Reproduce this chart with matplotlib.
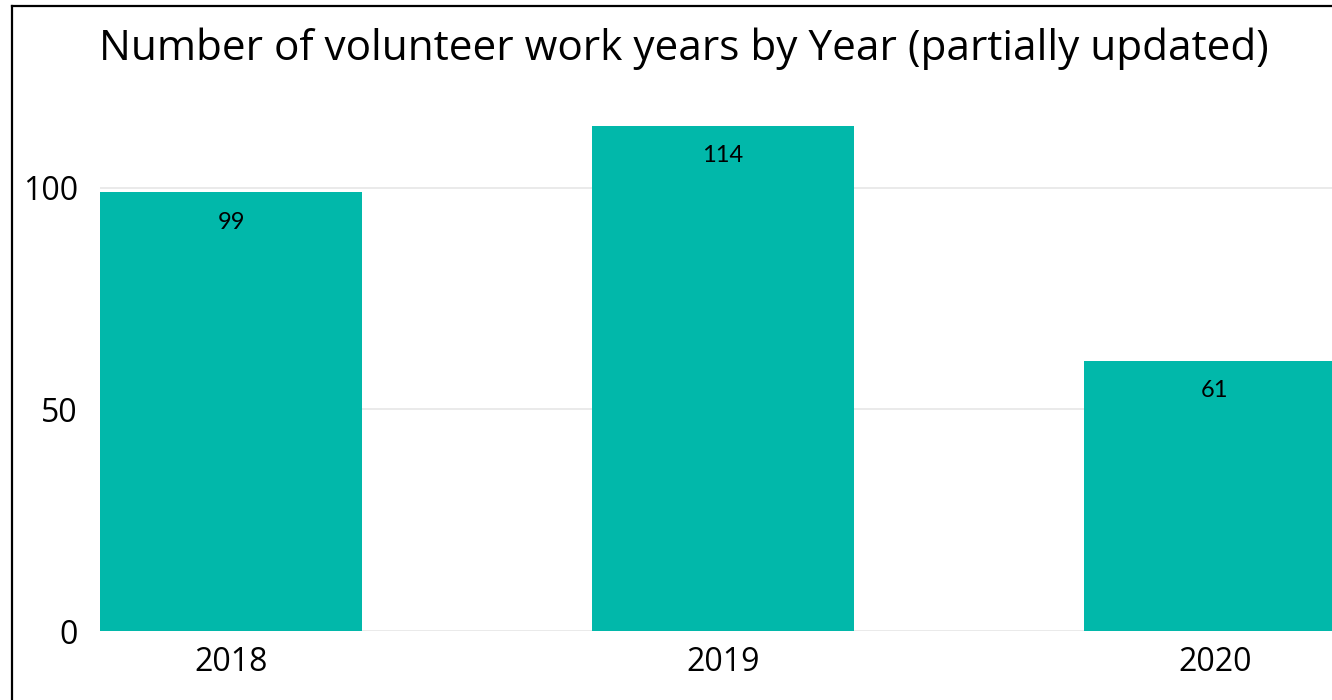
import matplotlib.pyplot as plt
from matplotlib.lines import Line2D

years = ["2018", "2019", "2020"]
work_years = [99, 114, 61]
y_ticks = [0, 50, 100]

W, H = 1332, 700
fig = plt.figure(figsize=(W / 100, H / 100), dpi=100)

# axes placed in pixels: x from 100 to right edge (last bar is cut off), y from 631 up
ax = fig.add_axes([100 / W, (H - 631) / H, (W - 100) / W, (631 - 106) / H])
xs = list(range(len(years)))
bars = ax.bar(xs, work_years, width=0.533, color="#01B8AA", zorder=2)
ax.set_xlim(-0.2665, 2.238)
ax.set_ylim(0, 118.5)

for b, v in zip(bars, work_years):
    ax.annotate(str(v), (b.get_x() + b.get_width() / 2, v), xytext=(0, -14),
                textcoords="offset points", ha="center", va="top",
                fontsize=17, family="Lato", color="black")

ax.set_yticks(y_ticks)
ax.set_yticklabels([str(t) for t in y_ticks], fontsize=23, family="Open Sans")
ax.set_xticks(xs)
ax.set_xticklabels(years, fontsize=23, family="Open Sans")
ax.tick_params(length=0)
ax.tick_params(axis="y", pad=16)
ax.tick_params(axis="x", pad=11)
ax.grid(axis="y", color="#E6E6E6", linewidth=1.2, zorder=0)
for s in ax.spines.values():
    s.set_visible(False)

fig.text(684 / W, 1 - 60 / H, "Number of volunteer work years by Year (partially updated)",
         ha="center", va="baseline", fontsize=30.4, family="Open Sans")

# frame lines on left and top
fig.add_artist(Line2D([11.5 / W, 11.5 / W], [0, 1 - 5.5 / H], color="black", linewidth=1.6))
fig.add_artist(Line2D([11.5 / W, 1], [1 - 5.5 / H, 1 - 5.5 / H], color="black", linewidth=1.6))

fig.savefig("out.png", dpi=100)
